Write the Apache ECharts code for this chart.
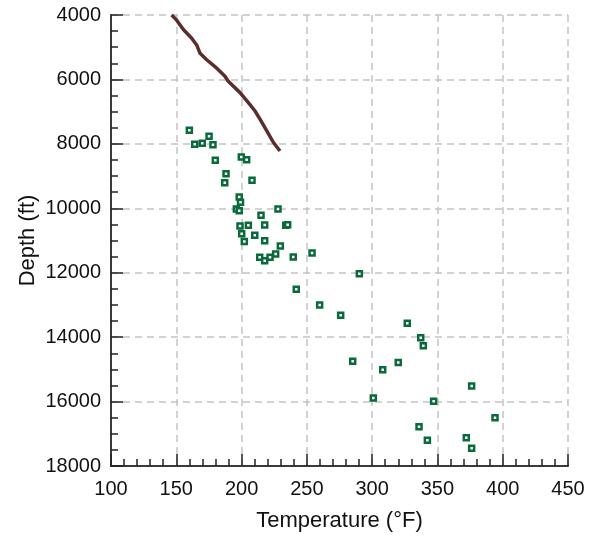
<!DOCTYPE html>
<html>
<head>
<meta charset="utf-8">
<script src="https://cdn.jsdelivr.net/npm/echarts@6/dist/echarts.min.js"></script>
<style>
html,body{margin:0;padding:0;background:#fff;}
#chart{width:601px;height:537px;}
</style>
</head>
<body>
<div id="chart"></div>
<script>
// gradient line (temperature, depth)
var lineTemp = [146.5,150.3,155.4,161.8,165.6,168.2,173.3,181,187.3,189.8,198.8,205.2,210.3,214.1,219.2,224.3,229.4];
var lineDepth = [4000,4160,4450,4720,4930,5190,5390,5650,5900,6060,6410,6720,6980,7230,7590,7950,8220];

// measured points
var ptTemp = [160.0,164.1,169.9,175.1,178.1,179.9,188.1,187.1,199.8,203.9,208.0,198.2,199.2,196.0,198.2,227.9,214.9,
  198.8,205.2,217.7,233.8,235.3,200.1,210.1,202.1,217.7,229.7,213.9,217.7,221.8,226.1,239.6,254.0,241.9,259.8,275.9,
  290.2,326.9,337.2,339.2,285.1,308.1,320.0,376.2,300.9,347.1,394.1,335.9,372.1,342.3,376.2];
var ptDepth = [7580,8010,7980,7765,8030,8510,8930,9210,8410,8490,9130,9650,9810,10020,10080,10020,10220,
  10550,10530,10520,10530,10510,10790,10840,11030,11010,11170,11520,11630,11520,11420,11510,11390,12510,13000,13320,
  12030,13570,14020,14270,14750,15010,14790,15520,15890,15990,16500,16780,17120,17200,17450];

function pairs(a, b) {
  var out = [];
  for (var i = 0; i < a.length; i++) out.push([a[i], b[i]]);
  return out;
}

var font = 'Liberation Sans, Arial, sans-serif';

var option = {
  animation: false,
  grid: {
    left: 111,
    right: 33,
    top: 15,
    bottom: 66
  },
  xAxis: {
    type: 'value',
    min: 100,
    max: 450,
    interval: 50,
    name: 'Temperature (°F)',
    nameLocation: 'middle',
    nameGap: 44,
    nameMoveOverlap: false,
    nameTextStyle: {fontFamily: font, fontSize: 22, color: '#111'},
    axisLine: {show: true, onZero: false, lineStyle: {color: '#3a3a3a', width: 2}},
    axisTick: {show: true, inside: true, length: 12, lineStyle: {color: '#222', width: 1.5}},
    minorTick: {show: true, splitNumber: 5, length: 7, lineStyle: {color: '#222', width: 1.5}},
    axisLabel: {fontFamily: font, fontSize: 20, color: '#111', margin: 13, formatter: function (v) { return String(v); }},
    splitLine: {show: true, lineStyle: {color: '#c4c4c4', width: 1.5, type: [7, 5]}}
  },
  yAxis: {
    type: 'value',
    min: 4000,
    max: 18000,
    interval: 2000,
    inverse: true,
    name: 'Depth (ft)',
    nameLocation: 'middle',
    nameGap: 72,
    nameMoveOverlap: false,
    nameTextStyle: {fontFamily: font, fontSize: 22, color: '#111'},
    axisLine: {show: true, onZero: false, lineStyle: {color: '#3a3a3a', width: 2}},
    axisTick: {show: true, inside: true, length: 12, lineStyle: {color: '#222', width: 1.5}},
    minorTick: {show: true, splitNumber: 4, length: 7, lineStyle: {color: '#222', width: 1.5}},
    axisLabel: {fontFamily: font, fontSize: 20, color: '#111', margin: 10, formatter: function (v) { return String(v); }},
    splitLine: {show: true, lineStyle: {color: '#c4c4c4', width: 1.5, type: [7, 5]}}
  },
  series: [
    {
      type: 'line',
      data: pairs(lineTemp, lineDepth),
      showSymbol: false,
      smooth: false,
      lineStyle: {color: '#5b2d2b', width: 3.5},
      z: 3
    },
    {
      type: 'scatter',
      data: pairs(ptTemp, ptDepth),
      symbol: 'rect',
      symbolSize: 5,
      itemStyle: {color: '#ffffff', borderColor: '#0b6a3a', borderWidth: 2.5, opacity: 1},
      z: 4
    }
  ]
};

var chart = echarts.init(document.getElementById('chart'));
chart.setOption(option);
</script>
</body>
</html>
